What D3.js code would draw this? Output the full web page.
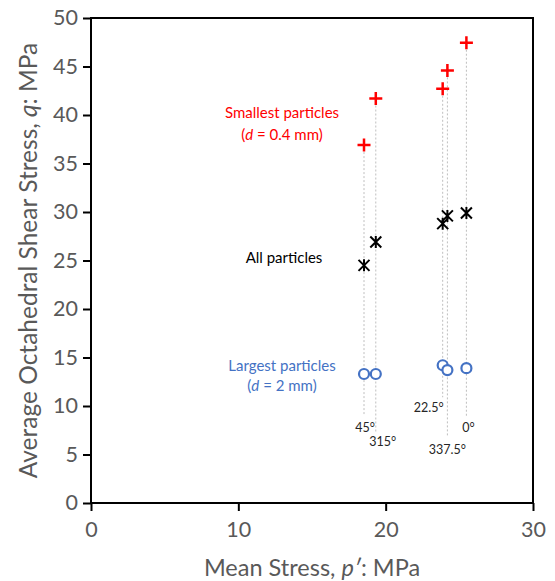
<!DOCTYPE html>
<html>
<head>
<meta charset="utf-8">
<script src="https://cdn.jsdelivr.net/npm/d3@7"></script>
<style>
  body { margin: 0; background: #fff; }
  svg { font-family: Lato, "Open Sans", sans-serif; }
</style>
</head>
<body>
<svg id="main_chart" width="555" height="581"></svg>
<script>
// loading direction (deg) and mean stress p' for each test
const angles = ["45°", "315°", "22.5°", "337.5°", "0°"];
const meanStress = [18.53, 19.33, 23.87, 24.19, 25.48];
// average octahedral shear stress q for each particle group
const qSmallest = [36.9, 41.7, 42.7, 44.6, 47.45];
const qAll = [24.5, 26.9, 28.8, 29.6, 29.9];
const qLargest = [13.3, 13.3, 14.2, 13.7, 13.9];
// where each dashed guide line stops (q units)
const guideEnd = [9.1, 7.2, 10.9, 6.8, 8.8];
const xTicks = [0, 10, 20, 30];
const yTicks = [0, 5, 10, 15, 20, 25, 30, 35, 40, 45, 50];

// label layout (pixels) relative to the end of each guide line
const labelDx = [1, 7, -14, 0, 2];
const labelDy = [17, 13, 15, 17, 14];

const plotLeft = 91, plotRight = 533, plotTop = 18, plotBottom = 503;

let svg = d3.select("#main_chart");

let xScale = d3.scaleLinear().domain([0, 30]).range([plotLeft, plotRight]);
let yScale = d3.scaleLinear().domain([0, 50]).range([plotBottom, plotTop]);

// guide lines
let guides = svg.append("g");
meanStress.forEach((p, i) => {
    guides.append("line")
        .attr("x1", xScale(p)).attr("x2", xScale(p))
        .attr("y1", yScale(qSmallest[i]) + 7)
        .attr("y2", yScale(guideEnd[i]))
        .attr("stroke", "#bfbfbf")
        .attr("stroke-width", 1)
        .attr("stroke-dasharray", "2,2");
    guides.append("text")
        .attr("x", xScale(p) + labelDx[i])
        .attr("y", yScale(guideEnd[i]) + labelDy[i])
        .attr("text-anchor", "middle")
        .attr("font-size", 12.5)
        .attr("fill", "#262626")
        .text(angles[i]);
});

// axes
let yAxis = svg.append("g")
    .attr("transform", "translate(" + plotLeft + ",0)")
    .call(d3.axisLeft(yScale).tickValues(yTicks).tickSize(8).tickSizeOuter(0).tickPadding(5));
let xAxis = svg.append("g")
    .attr("transform", "translate(0," + plotBottom + ")")
    .call(d3.axisBottom(xScale).tickValues(xTicks).tickSize(8).tickSizeOuter(0).tickPadding(11));

[xAxis, yAxis].forEach(ax => {
    ax.select(".domain").remove();
    ax.selectAll(".tick line").attr("stroke", "#000").attr("stroke-width", 2);
    ax.selectAll(".tick text")
        .attr("font-size", 21.5)
        .attr("fill", "#595959")
        .attr("font-family", "Lato, 'Open Sans', sans-serif");
});

// frame
svg.append("rect")
    .attr("x", plotLeft).attr("y", plotTop)
    .attr("width", plotRight - plotLeft).attr("height", plotBottom - plotTop)
    .attr("fill", "none")
    .attr("stroke", "#000")
    .attr("stroke-width", 2);

// markers
let pts = svg.append("g");
const ptsData = meanStress.map((p, i) => ({p: p, s: qSmallest[i], a: qAll[i], l: qLargest[i]}));

pts.selectAll(".plus")
    .data(ptsData)
    .enter().append("path")
    .attr("class", "plus")
    .attr("d", "M-6.5,0H6.5M0,-6.5V6.5")
    .attr("stroke", "#ff0000")
    .attr("stroke-width", 2.5)
    .attr("transform", d => "translate(" + xScale(d.p) + "," + yScale(d.s) + ")");

pts.selectAll(".star")
    .data(ptsData)
    .enter().append("path")
    .attr("class", "star")
    .attr("d", "M-5.5,-5.5L5.5,5.5M-5.5,5.5L5.5,-5.5M0,-6V6")
    .attr("stroke", "#000")
    .attr("stroke-width", 2)
    .attr("transform", d => "translate(" + xScale(d.p) + "," + yScale(d.a) + ")");

pts.selectAll(".circ")
    .data(ptsData)
    .enter().append("circle")
    .attr("class", "circ")
    .attr("r", 5)
    .attr("fill", "#fff")
    .attr("stroke", "#4472c4")
    .attr("stroke-width", 2.2)
    .attr("cx", d => xScale(d.p))
    .attr("cy", d => yScale(d.l));

// group labels
function label(x, y, color, parts) {
    let t = svg.append("text")
        .attr("x", x).attr("y", y)
        .attr("text-anchor", "middle")
        .attr("font-size", 15)
        .attr("fill", color);
    parts.forEach(pt => {
        t.append("tspan").attr("font-style", pt[1] ? "italic" : null).text(pt[0]);
    });
}
label(282, 118, "#ff0000", [["Smallest particles", false]]);
label(282, 140, "#ff0000", [["(", false], ["d", true], [" = 0.4 mm)", false]]);
label(284, 263, "#000", [["All particles", false]]);
label(282, 371, "#4472c4", [["Largest particles", false]]);
label(282, 391, "#4472c4", [["(", false], ["d", true], [" = 2 mm)", false]]);

// axis titles
let xt = svg.append("text")
    .attr("x", 312).attr("y", 576)
    .attr("text-anchor", "middle")
    .attr("font-size", 23.5)
    .attr("fill", "#595959");
xt.append("tspan").text("Mean Stress, ");
xt.append("tspan").attr("font-style", "italic").text("p′");
xt.append("tspan").text(": MPa");

let yt = svg.append("text")
    .attr("transform", "translate(37," + ((plotTop + plotBottom) / 2) + ") rotate(-90)")
    .attr("text-anchor", "middle")
    .attr("font-size", 24.5)
    .attr("fill", "#595959");
yt.append("tspan").text("Average Octahedral Shear Stress, ");
yt.append("tspan").attr("font-style", "italic").text("q");
yt.append("tspan").text(": MPa");
</script>
</body>
</html>
